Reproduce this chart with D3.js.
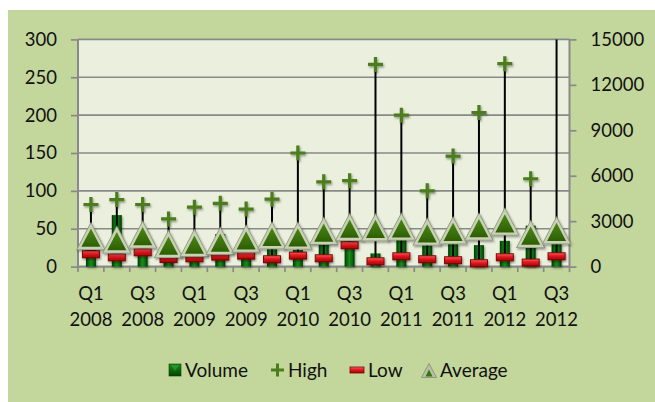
<!DOCTYPE html>
<html>
<head>
<meta charset="utf-8">
<script src="https://cdn.jsdelivr.net/npm/d3@7"></script>
<style>
  html, body { margin: 0; padding: 0; background: #ffffff; }
  svg { display: block; font-family: Lato, "Open Sans", sans-serif; }
</style>
</head>
<body>
<svg id="chart" width="655" height="402"></svg>
<script>
// Quarterly stock data: traded volume plus high / low / average price
const quarters = [
  "Q1 2008", "Q2 2008", "Q3 2008", "Q4 2008",
  "Q1 2009", "Q2 2009", "Q3 2009", "Q4 2009",
  "Q1 2010", "Q2 2010", "Q3 2010", "Q4 2010",
  "Q1 2011", "Q2 2011", "Q3 2011", "Q4 2011",
  "Q1 2012", "Q2 2012", "Q3 2012"
];
const volume  = [1200, 3400, 1300, 600, 400, 2150, 1000, 1250, 1100, 2600, 1650, 870, 1800, 1400, 1500, 1420, 1700, 2700, 1550];
const high    = [82, 88.5, 82, 63, 78.5, 83.5, 76, 89, 150, 112, 113.5, 267, 200, 100, 146, 203.5, 268, 116, 325];
const low     = [16.3, 12.3, 18.9, 10.1, 11, 13.2, 14.5, 9.7, 14.5, 11, 28.2, 7, 13.6, 9.7, 8.4, 4.4, 12.3, 5.3, 13.6];
const average = [39, 34.5, 41, 28.6, 30, 32.6, 35.6, 40, 39.6, 45.8, 51, 50.6, 51.5, 44.9, 46.6, 51.7, 58.1, 41.8, 46.6];

const priceTicks  = [0, 50, 100, 150, 200, 250, 300];
const volumeTicks = [0, 3000, 6000, 9000, 12000, 15000];
const legendItems = ["Volume", "High", "Low", "Average"];

const svg = d3.select("#chart");
const plot = { left: 78, right: 569.5, top: 39.4, bottom: 266.6 };
const axisGrey = "#898989";

const x  = d3.scaleBand().domain(quarters).range([plot.left, plot.right]).padding(0);
const yP = d3.scaleLinear().domain([0, 300]).range([plot.bottom, plot.top]);
const yV = d3.scaleLinear().domain([0, 15000]).range([plot.bottom, plot.top]);
const cx = q => x(q) + x.bandwidth() / 2;

// ---- paint definitions ----
const defs = svg.append("defs");
function linGrad(id, horizontal, stops) {
  const g = defs.append("linearGradient").attr("id", id)
    .attr("x1", 0).attr("y1", 0)
    .attr("x2", horizontal ? 1 : 0).attr("y2", horizontal ? 0 : 1);
  stops.forEach(([o, c]) => g.append("stop").attr("offset", o).attr("stop-color", c));
}
linGrad("barGrad", true, [[0, "#003a00"], [0.3, "#0f700f"], [0.5, "#1c8a1c"], [0.7, "#0f700f"], [1, "#003a00"]]);
linGrad("lowGrad", false, [[0, "#ff6a6a"], [0.35, "#e8222a"], [1, "#a30000"]]);
linGrad("triGrad", false, [[0, "#4f8c16"], [1, "#2b5d02"]]);
linGrad("volKey", false, [[0, "#1c8a1c"], [1, "#004400"]]);

const shadow = defs.append("filter").attr("id", "shadow")
  .attr("x", "-40%").attr("y", "-40%").attr("width", "180%").attr("height", "180%");
shadow.append("feDropShadow").attr("dx", 1).attr("dy", 1.5)
  .attr("stdDeviation", 1.2).attr("flood-color", "#000").attr("flood-opacity", 0.4);

defs.append("clipPath").attr("id", "plotClip").append("rect")
  .attr("x", plot.left).attr("y", plot.top)
  .attr("width", plot.right - plot.left).attr("height", plot.bottom - plot.top);

// ---- backgrounds ----
svg.append("rect").attr("x", 8).attr("y", 10).attr("width", 647).attr("height", 392).attr("fill", "#c3d69b");
svg.append("rect").attr("x", plot.left).attr("y", plot.top)
  .attr("width", plot.right - plot.left).attr("height", plot.bottom - plot.top)
  .attr("fill", "#ebf0de");

// ---- gridlines (price axis) ----
svg.append("g").selectAll("line").data(priceTicks.filter(t => t > 0)).join("line")
  .attr("x1", plot.left).attr("x2", plot.right)
  .attr("y1", d => yP(d)).attr("y2", d => yP(d))
  .attr("stroke", axisGrey).attr("stroke-width", 1.7);

// ---- axes ----
const leftAxis = svg.append("g").attr("transform", `translate(${plot.left},0)`)
  .call(d3.axisLeft(yP).tickValues(priceTicks).tickSize(7).tickPadding(14));
const rightAxis = svg.append("g").attr("transform", `translate(${plot.right},0)`)
  .call(d3.axisRight(yV).tickValues(volumeTicks).tickFormat(d3.format("d")).tickSize(7).tickPadding(14));
[leftAxis, rightAxis].forEach(g => {
  g.select(".domain").remove();
  g.selectAll(".tick line").attr("stroke", axisGrey).attr("stroke-width", 1.7);
  g.selectAll(".tick text").attr("font-size", 18.5).attr("fill", "#111")
    .attr("font-family", "Lato, 'Open Sans', sans-serif");
});
svg.append("line").attr("x1", plot.left).attr("x2", plot.left)
  .attr("y1", plot.top).attr("y2", plot.bottom).attr("stroke", axisGrey).attr("stroke-width", 2);
svg.append("line").attr("x1", plot.right).attr("x2", plot.right)
  .attr("y1", plot.top).attr("y2", plot.bottom).attr("stroke", axisGrey).attr("stroke-width", 2);

// category axis: line, boundary ticks and two-line labels on every other quarter
const bottomAxis = svg.append("g").attr("transform", `translate(0,${plot.bottom})`)
  .call(d3.axisBottom(x).tickSize(0).tickPadding(0).tickFormat(""));
bottomAxis.select(".domain").remove();
bottomAxis.append("line").attr("x1", plot.left).attr("x2", plot.right)
  .attr("stroke", axisGrey).attr("stroke-width", 2.2);
bottomAxis.selectAll(".boundary").data(quarters.map(q => x(q)).concat([plot.right])).join("line")
  .attr("class", "boundary")
  .attr("x1", d => d).attr("x2", d => d).attr("y1", 0).attr("y2", 5.5)
  .attr("stroke", axisGrey).attr("stroke-width", 1.7);
bottomAxis.selectAll(".tick").each(function(q, i) {
  const t = d3.select(this).select("text").text(null)
    .attr("font-size", 18.5).attr("fill", "#111").attr("y", 0).attr("dy", 0)
    .attr("font-family", "Lato, 'Open Sans', sans-serif");
  if (i % 2 !== 0) return;
  const [qq, yr] = q.split(" ");
  t.append("tspan").attr("x", 0).attr("y", 33.5).text(qq);
  t.append("tspan").attr("x", 0).attr("y", 59.5).text(yr);
});

// ---- volume bars (right axis) ----
const barW = 10;
svg.append("g").selectAll("rect").data(quarters).join("rect")
  .attr("x", q => cx(q) - barW / 2)
  .attr("y", (q, i) => yV(volume[i]))
  .attr("width", barW)
  .attr("height", (q, i) => yV(0) - yV(volume[i]))
  .attr("fill", "url(#barGrad)")
  .attr("filter", "url(#shadow)");

// ---- high-low lines ----
svg.append("g").attr("clip-path", "url(#plotClip)").selectAll("line").data(quarters).join("line")
  .attr("x1", cx).attr("x2", cx)
  .attr("y1", (q, i) => yP(high[i])).attr("y2", (q, i) => yP(low[i]))
  .attr("stroke", "#000").attr("stroke-width", 2);

// ---- high markers ----
const plusPath = "M-7.5,0H7.5M0,-7.5V7.5";
svg.append("g").attr("clip-path", "url(#plotClip)").selectAll("path").data(quarters).join("path")
  .attr("transform", (q, i) => `translate(${cx(q)},${yP(high[i])})`)
  .attr("d", plusPath)
  .attr("stroke", "#4b7d1b").attr("stroke-width", 3.2).attr("fill", "none")
  .attr("filter", "url(#shadow)");

// ---- low markers ----
svg.append("g").selectAll("rect").data(quarters).join("rect")
  .attr("x", q => cx(q) - 8.5)
  .attr("y", (q, i) => yP(low[i]) - 3.5)
  .attr("width", 17).attr("height", 7)
  .attr("fill", "url(#lowGrad)").attr("stroke", "#7e0606").attr("stroke-width", 1)
  .attr("filter", "url(#shadow)");

// ---- average markers: grey outline, pale bevel rim, green face ----
const triPath = "M0,-11L11.5,11L-11.5,11Z";
const avg = svg.append("g").selectAll("g").data(quarters).join("g")
  .attr("transform", (q, i) => `translate(${cx(q)},${yP(average[i])})`)
  .attr("filter", "url(#shadow)");
avg.append("path").attr("d", triPath)
  .attr("fill", "none").attr("stroke", "#8e987c").attr("stroke-width", 4)
  .attr("stroke-linejoin", "miter");
avg.append("path").attr("d", triPath)
  .attr("fill", "url(#triGrad)")
  .attr("stroke", "#c9d1b6").attr("stroke-width", 2.4).attr("stroke-linejoin", "miter");

// ---- legend ----
const legend = svg.append("g").attr("font-size", 19).attr("fill", "#111");
const legendX = { Volume: [169, 185], High: [271, 288], Low: [350, 368], Average: [421, 440] };
const legendY = 370;
legendItems.forEach(name => {
  const [mx, tx] = legendX[name];
  if (name === "Volume") {
    legend.append("rect").attr("x", mx).attr("y", legendY - 6).attr("width", 12).attr("height", 12)
      .attr("fill", "url(#volKey)").attr("stroke", "#004000").attr("stroke-width", 0.6);
    legend.append("path").attr("d", `M${mx + 2},${legendY - 5}L${mx + 10},${legendY - 5}L${mx + 6},${legendY + 1}Z`)
      .attr("fill", "#3aa33a").attr("opacity", 0.6);
  } else if (name === "High") {
    legend.append("path").attr("transform", `translate(${mx + 6.5},${legendY})`)
      .attr("d", "M-6.5,0H6.5M0,-6.5V6.5").attr("stroke", "#4b7d1b").attr("stroke-width", 3).attr("fill", "none");
  } else if (name === "Low") {
    legend.append("rect").attr("x", mx).attr("y", legendY - 3).attr("width", 14).attr("height", 6)
      .attr("fill", "url(#lowGrad)").attr("stroke", "#7e0606").attr("stroke-width", 0.8);
  } else {
    legend.append("path").attr("transform", `translate(${mx + 8},${legendY + 0.5})`)
      .attr("d", "M0,-7L7.5,7L-7.5,7Z")
      .attr("fill", "#b9c2a2").attr("stroke", "#8e987c").attr("stroke-width", 1);
    legend.append("path").attr("transform", `translate(${mx + 8},${legendY + 0.5})`)
      .attr("d", "M0,-1L3.5,6L-3.5,6Z").attr("fill", "#3a7410");
  }
  legend.append("text").attr("x", tx).attr("y", legendY + 7).text(name);
});
</script>
</body>
</html>
